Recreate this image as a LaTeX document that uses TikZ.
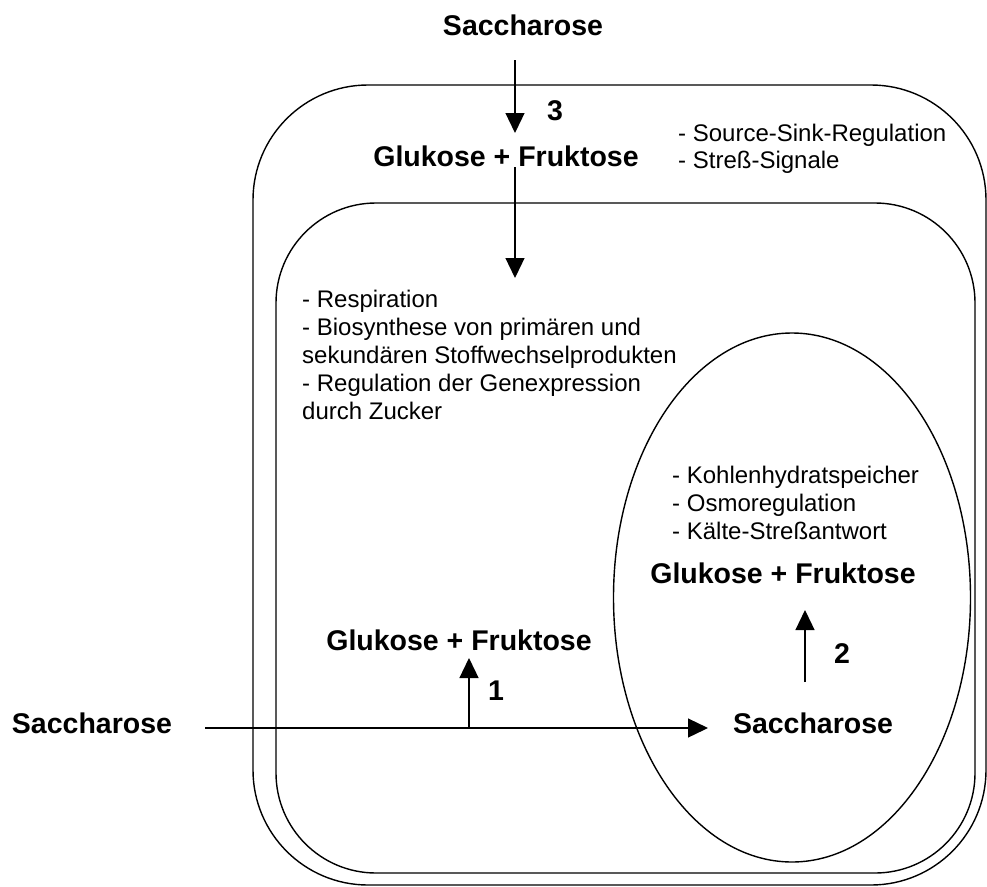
\documentclass[tikz,border=0pt]{standalone}
\usepackage{fontspec}
\setmainfont{Liberation Sans}
\usetikzlibrary{arrows.meta}
\begin{document}
\begin{tikzpicture}[x=1pt,y=-1pt,
  big/.style={inner sep=0pt,anchor=base,font=\fontsize{28.5}{34}\selectfont\bfseries},
  small/.style={inner sep=0pt,anchor=base west,font=\fontsize{24}{28}\selectfont},
  frame/.style={draw=black,line width=1.4pt},
  flow/.style={draw=black,line width=1.3pt,-{Triangle[width=19pt,length=20pt]}}]
\useasboundingbox (0,0) rectangle (987,886);
% compartments
\draw[frame,rounded corners=115pt] (253,85) rectangle (986,885);
\draw[frame,rounded corners=100pt] (276,203) rectangle (975,873);
\draw[frame] (792,597.5) ellipse [x radius=178.5pt, y radius=264.5pt];
% bold labels
\node[big] (sTop) at (523,35) {Saccharose};
\node[big] (gTop) at (506,166) {Glukose + Fruktose};
\node[big] (n3) at (555,120) {3};
\node[big] (gLeft) at (459,650) {Glukose + Fruktose};
\node[big] (n1) at (496,700) {1};
\node[big] (sLeft) at (92,733) {Saccharose};
\node[big] (sRight) at (813,733) {Saccharose};
\node[big] (gVac) at (783,583) {Glukose + Fruktose};
\node[big] (n2) at (842,663) {2};
% small texts
\node[small] (t1) at (678,141) {- Source-Sink-Regulation};
\node[small] (t2) at (678,168) {- Streß-Signale};
\node[small] (c1) at (302,307) {- Respiration};
\node[small] (c2) at (302,335) {- Biosynthese von primären und};
\node[small] (c3) at (302,363) {sekundären Stoffwechselprodukten};
\node[small] (c4) at (302,391) {- Regulation der Genexpression};
\node[small] (c5) at (302,419) {durch Zucker};
\node[small] (v1) at (672,483) {- Kohlenhydratspeicher};
\node[small] (v2) at (672,511) {- Osmoregulation};
\node[small] (v3) at (672,539) {- Kälte-Streßantwort};
% connector ends
\coordinate (a3s) at (515,60);
\coordinate (a3e) at (515,133);
\coordinate (a4s) at (515,167);
\coordinate (a4e) at (515,278);
\coordinate (hs) at (205,728);
\coordinate (he) at (708,728);
\coordinate (a1s) at (469,728);
\coordinate (a1e) at (469,658);
\coordinate (a2s) at (805,682);
\coordinate (a2e) at (805,610);
% arrows
\draw[flow] (a3s) -- (a3e);
\draw[flow] (a4s) -- (a4e);
\draw[flow] (hs) -- (he);
\draw[flow] (a1s) -- (a1e);
\draw[flow] (a2s) -- (a2e);
\end{tikzpicture}
\end{document}
